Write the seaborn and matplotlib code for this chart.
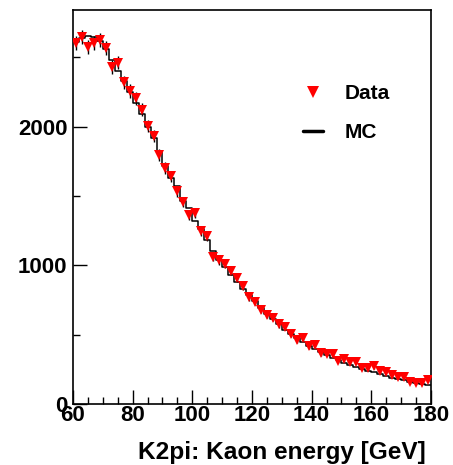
import numpy as np
import pandas as pd
import seaborn as sns
from matplotlib import pyplot as plt
from matplotlib.lines import Line2D
from matplotlib.ticker import MultipleLocator

# bin edges of the kaon energy histogram, 2 GeV bins
bin_edges = np.arange(60, 182, 2)
bin_centers = bin_edges[:-1] + 1

data_counts = [2604, 2645, 2573, 2602, 2621, 2568, 2430, 2461, 2318, 2256,
               2203, 2120, 2005, 1933, 1795, 1701, 1642, 1534, 1455, 1360,
               1378, 1247, 1211, 1063, 1035, 1010, 961, 910, 853, 772,
               738, 679, 643, 622, 573, 554, 502, 464, 475, 416,
               428, 368, 363, 363, 310, 323, 303, 303, 263, 256,
               272, 239, 232, 208, 191, 195, 160, 153, 153, 172]

mc_counts = [2610, 2640, 2650, 2645, 2620, 2560, 2480, 2400, 2330, 2250,
             2170, 2090, 2000, 1915, 1817, 1715, 1630, 1570, 1465, 1410,
             1320, 1260, 1180, 1100, 1040, 985, 930, 880, 830, 785,
             745, 695, 650, 610, 575, 535, 505, 475, 450, 420,
             395, 375, 350, 335, 315, 295, 282, 268, 255, 240,
             228, 215, 203, 190, 180, 170, 160, 150, 142, 135]

df_mc = pd.DataFrame({"energy": bin_centers, "mc": mc_counts})

sns.set_style("white")
plt.rcParams['font.family'] = ['Liberation Sans', 'DejaVu Sans']
plt.rcParams['font.weight'] = 'bold'
plt.rcParams['text.color'] = 'black'
plt.rcParams['xtick.color'] = 'black'
plt.rcParams['ytick.color'] = 'black'

fig = plt.figure(figsize=(4.53, 4.65), dpi=100)
ax = fig.add_axes([0.1611, 0.1312, 0.7903, 0.8473])

# MC histogram as a step outline
sns.histplot(data=df_mc, x="energy", weights="mc", bins=list(bin_edges),
             element="step", fill=False, color="black", linewidth=1.1, ax=ax)

# data points with poisson errors
ax.errorbar(bin_centers, data_counts, yerr=np.sqrt(data_counts), fmt='none',
            ecolor='black', elinewidth=1.0, zorder=3)
ax.plot(bin_centers, data_counts, 'v', color='red', markersize=6.5,
        markeredgewidth=0, zorder=4)

ax.set_xlim(60, 180)
ax.set_ylim(0, 2840)
ax.set_ylabel("")
ax.set_xlabel("")
fig.text(426 / 453, 13 / 465, "K2pi: Kaon energy [GeV]", fontsize=17.6,
         fontweight='bold', ha='right', va='center', color='black')

ax.xaxis.set_major_locator(MultipleLocator(20))
ax.xaxis.set_minor_locator(MultipleLocator(5))
ax.yaxis.set_major_locator(MultipleLocator(1000))
ax.yaxis.set_minor_locator(MultipleLocator(500))
ax.tick_params(which='both', direction='in', bottom=True, left=True,
               top=False, right=False, labelsize=16, width=1.0,
               color='black', labelcolor='black')
ax.tick_params(which='major', length=10)
ax.tick_params(which='minor', length=5)
ax.tick_params(axis='x', pad=1)
ax.tick_params(axis='y', pad=4)
for lab in ax.get_xticklabels() + ax.get_yticklabels():
    lab.set_fontweight('bold')

for sp in ax.spines.values():
    sp.set_color('black')
    sp.set_linewidth(1.2)

handles = [Line2D([], [], marker='v', color='red', linestyle='none',
                  markersize=8, markeredgewidth=0),
           Line2D([], [], color='black', linewidth=2.5)]
ax.legend(handles, ["Data", "MC"], loc='upper left', bbox_to_anchor=(0.589, 0.859),
          frameon=False, prop={'size': 15, 'weight': 'bold'},
          handlelength=1.0, labelspacing=0.95, handletextpad=1.0,
          labelcolor='black')

plt.savefig("out.png", dpi=100)
